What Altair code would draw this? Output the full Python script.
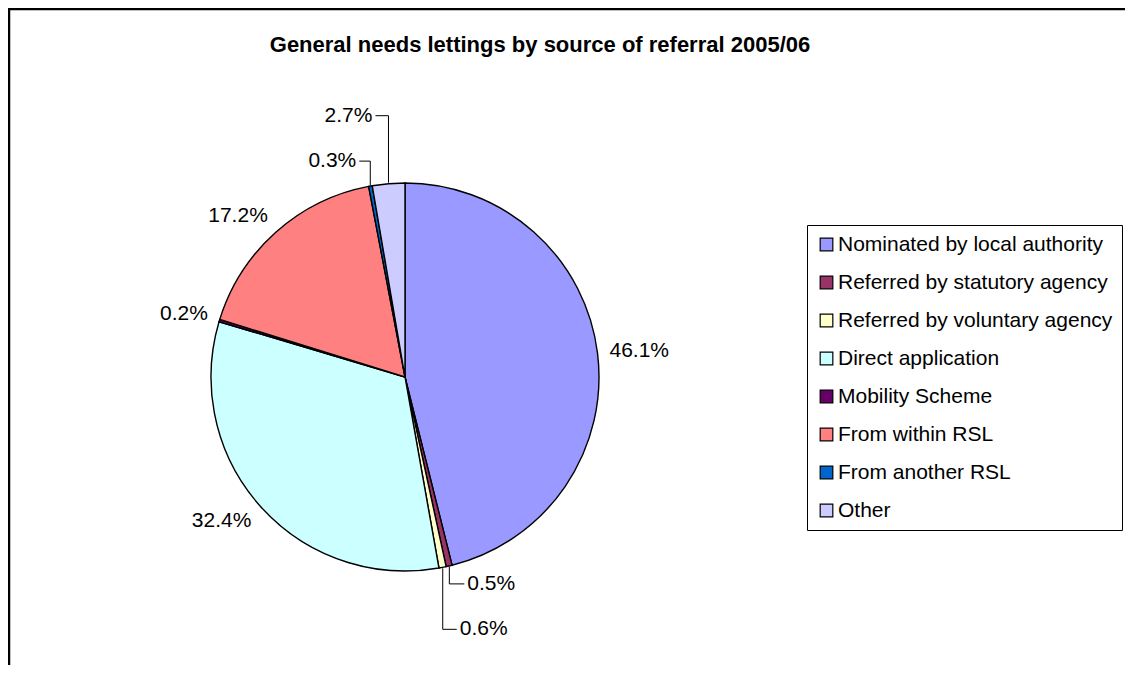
import math
import pandas as pd
import altair as alt

# ---- data ----
categories = [
    "Nominated by local authority",
    "Referred by statutory agency",
    "Referred by voluntary agency",
    "Direct application",
    "Mobility Scheme",
    "From within RSL",
    "From another RSL",
    "Other",
]
values = [46.1, 0.5, 0.6, 32.4, 0.2, 17.2, 0.3, 2.7]
colors = ["#9999FF", "#993366", "#FFFFCC", "#CCFFFF", "#660066", "#FF8080", "#0066CC", "#CCCCFF"]
title_text = "General needs lettings by source of referral 2005/06"

# ---- layout (pixels, relative to the plot origin) ----
W, H = 1117, 657
CX, CY, R = 397, 369, 194
LABEL_GAP = 12
TEXT_H = 20
LABEL_SIZE = 21
# leader-line callouts for thin slices: index -> (vertical rise, horizontal run)
callouts = {1: (17, 15), 2: (61, 14), 6: (-24, -11), 7: (-67, -13)}
FONT = "Liberation Sans, Arial"

total = sum(values)
rows, lab_rows, seg_rows = [], [], []
cum = 0.0
for i, (c, v) in enumerate(zip(categories, values)):
    mid = (cum + v / 2) / total * 2 * math.pi
    cum += v
    s, co = math.sin(mid), math.cos(mid)
    rows.append({"idx": i, "category": c, "value": v})
    text = f"{v:.1f}%"
    if i in callouts:
        rise, run = callouts[i]
        ex, ey = CX + (R + 1) * s, CY - (R + 1) * co
        bx, by = ex, ey + rise
        endx = bx + run
        seg_rows.append({"x": ex, "y": ey, "x2": bx, "y2": by})
        seg_rows.append({"x": bx, "y": by, "x2": endx, "y2": by})
        side = "L" if run > 0 else "R"
        lx = endx + (3 if run > 0 else -3)
        lab_rows.append({"label": text, "lx": lx, "ly": by, "side": side})
    else:
        px, py = CX + (R + LABEL_GAP) * s, CY - (R + LABEL_GAP) * co
        py = py - (TEXT_H / 2) * co
        side = "L" if s > 0 else "R"
        lab_rows.append({"label": text, "lx": px, "ly": py, "side": side})

df = pd.DataFrame(rows)
df_lab = pd.DataFrame(lab_rows)
df_seg = pd.DataFrame(seg_rows)

pie = alt.Chart(df).mark_arc(outerRadius=R, stroke="black", strokeWidth=1.4).encode(
    theta=alt.Theta("value:Q", stack=True),
    order=alt.Order("idx:Q", sort="ascending"),
    color=alt.Color(
        "category:N",
        scale=alt.Scale(domain=categories, range=colors),
        sort=categories,
        legend=alt.Legend(
            title=None,
            orient="none",
            legendX=799,
            legendY=217,
            symbolType="square",
            symbolSize=160,
            symbolStrokeColor="black",
            symbolStrokeWidth=1.2,
            symbolOpacity=1,
            labelFontSize=21,
            labelFont=FONT,
            labelColor="black",
            labelOffset=1,
            rowPadding=16,
            padding=9,
            strokeColor="black",
            fillColor="white",
            labelLimit=400,
        ),
    ),
    x=alt.value(CX),
    y=alt.value(CY),
)

base_lab = alt.Chart(df_lab)
lab_left = base_lab.transform_filter(alt.datum.side == "L").mark_text(
    align="left", baseline="middle", fontSize=LABEL_SIZE, font=FONT, color="black"
).encode(
    x=alt.X("lx:Q", scale=None, axis=None),
    y=alt.Y("ly:Q", scale=None, axis=None),
    text="label:N",
)
lab_right = base_lab.transform_filter(alt.datum.side == "R").mark_text(
    align="right", baseline="middle", fontSize=LABEL_SIZE, font=FONT, color="black"
).encode(
    x=alt.X("lx:Q", scale=None, axis=None),
    y=alt.Y("ly:Q", scale=None, axis=None),
    text="label:N",
)

leaders = alt.Chart(df_seg).mark_rule(color="black", strokeWidth=1).encode(
    x=alt.X("x:Q", scale=None, axis=None),
    y=alt.Y("y:Q", scale=None, axis=None),
    x2="x2:Q",
    y2="y2:Q",
)

one = pd.DataFrame({"k": [0]})
frame_left = alt.Chart(one).mark_rule(color="black", strokeWidth=2.5).encode(
    x=alt.value(1), y=alt.value(0), y2=alt.value(H)
)
frame_top = alt.Chart(one).mark_rule(color="black", strokeWidth=2.5).encode(
    y=alt.value(1), x=alt.value(0), x2=alt.value(W)
)
title = alt.Chart(one).mark_text(
    text=title_text, fontSize=22, fontWeight="bold", font=FONT, color="black",
    align="center", baseline="middle",
).encode(x=alt.value(532), y=alt.value(37))

chart = alt.layer(
    frame_left, frame_top, title, pie, leaders, lab_left, lab_right
).properties(
    width=W, height=H, autosize=alt.AutoSizeParams(type="none"), padding=0,
    background="white",
).configure_view(stroke=None).configure_legend(strokeWidth=1)

chart.save("out.html", embed_options={"renderer": "svg", "actions": False})
